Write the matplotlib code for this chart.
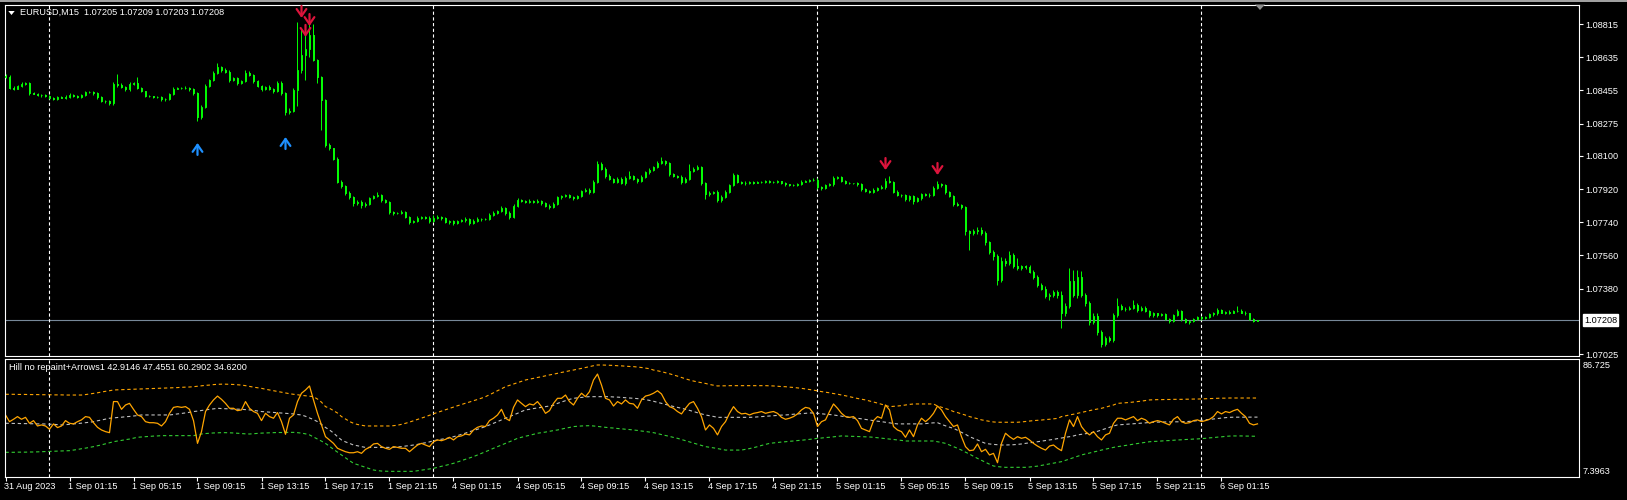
import matplotlib
matplotlib.use("Agg")
import matplotlib.pyplot as plt
from matplotlib.patches import Polygon, Rectangle
import numpy as np

plt.rcParams['font.family'] = ['Liberation Sans', 'DejaVu Sans']
plt.rcParams['lines.scale_dashes'] = False

# ---------------- data (prices in points above 1.07000) ----------------
BASE = 1.07000
PT = 1e-5
first_open_pts = 1535
close_pts = [
    1530, 1470, 1465, 1478, 1490, 1495, 1440, 1438, 1432, 1428,
    1425, 1415, 1410, 1418, 1415, 1420, 1430, 1425, 1418, 1428,
    1445, 1448, 1440, 1420, 1400, 1395, 1385, 1490, 1485, 1475,
    1460, 1490, 1495, 1470, 1450, 1425, 1422, 1420, 1420, 1410,
    1410, 1435, 1465, 1470, 1468, 1470, 1462, 1440, 1310, 1365,
    1480, 1510, 1550, 1580, 1565, 1555, 1510, 1520, 1495, 1505,
    1550, 1540, 1505, 1480, 1460, 1475, 1465, 1450, 1495, 1440,
    1335, 1345, 1455, 1565, 1645, 1680, 1755, 1620, 1530, 1405,
    1160, 1140, 1085, 960, 935, 900, 875, 845, 850, 835,
    840, 870, 880, 885, 860, 850, 795, 790, 790, 795,
    770, 740, 745, 765, 768, 765, 745, 765, 770, 762,
    740, 745, 735, 745, 750, 760, 735, 748, 760, 755,
    758, 780, 790, 800, 815, 790, 770, 830, 860, 855,
    850, 855, 850, 857, 845, 830, 825, 840, 875, 880,
    885, 878, 870, 880, 910, 915, 905, 960, 1055, 1030,
    990, 975, 960, 975, 955, 980, 990, 975, 965, 985,
    1010, 1025, 1040, 1060, 1070, 1060, 1000, 990, 985, 960,
    975, 1020, 1030, 1040, 950, 895, 900, 905, 860, 875,
    905, 940, 995, 960, 955, 950, 960, 955, 958, 960,
    965, 958, 960, 962, 955, 945, 942, 940, 945, 960,
    965, 968, 970, 930, 925, 940, 945, 980, 985, 965,
    955, 950, 950, 945, 920, 910, 905, 915, 925, 930,
    965, 960, 905, 890, 885, 865, 880, 855, 870, 895,
    890, 885, 925, 945, 940, 905, 880, 840, 835, 820,
    690, 680, 690, 700, 680, 630, 580, 555, 425, 530,
    520, 560, 500, 490, 500, 495, 470, 445, 400, 380,
    340, 345, 360, 345, 250, 285, 420, 345, 445, 345,
    300, 200, 230, 145, 80, 110, 100, 235, 285, 270,
    270, 275, 290, 265, 275, 260, 235, 245, 235, 240,
    215, 205, 235, 260, 215, 200, 205, 215, 225, 220,
    225, 240, 245, 265, 250, 255, 250, 258, 260, 250,
    245, 215, 205, 208,
]
up_wick_pts = [
    8, 6, 10, 5, 9, 6, 4, 8, 5, 6,
    5, 7, 4, 6, 5, 8, 10, 6, 4, 7,
    9, 6, 5, 4, 6, 5, 8, 12, 55, 10,
    6, 12, 8, 30, 5, 4, 6, 3, 5, 4,
    6, 8, 10, 6, 5, 7, 6, 4, 8, 12,
    10, 8, 12, 21, 6, 10, 8, 6, 7, 8,
    15, 10, 6, 8, 5, 6, 7, 4, 10, 12,
    8, 12, 15, 262, 148, 86, 65, 60, 6, 5,
    4, 8, 5, 6, 10, 6, 8, 6, 12, 8,
    10, 6, 8, 18, 6, 5, 4, 8, 6, 12,
    6, 5, 8, 10, 6, 5, 7, 12, 8, 6,
    5, 8, 6, 7, 6, 10, 5, 8, 6, 5,
    6, 8, 10, 7, 12, 6, 8, 10, 12, 8,
    6, 10, 8, 7, 5, 6, 8, 10, 6, 8,
    7, 10, 6, 8, 6, 12, 8, 10, 17, 10,
    8, 10, 6, 8, 12, 10, 28, 8, 6, 10,
    8, 10, 6, 12, 22, 8, 6, 8, 5, 10,
    12, 36, 10, 8, 6, 8, 10, 6, 8, 10,
    10, 8, 12, 6, 5, 6, 4, 5, 6, 4,
    5, 4, 5, 6, 4, 5, 4, 6, 5, 8,
    6, 5, 8, 10, 8, 6, 10, 12, 8, 6,
    5, 4, 5, 6, 5, 6, 4, 8, 6, 10,
    15, 25, 6, 8, 5, 6, 10, 5, 8, 6,
    6, 8, 12, 18, 8, 6, 5, 10, 8, 6,
    8, 10, 14, 16, 12, 10, 8, 10, 15, 20,
    18, 25, 15, 44, 10, 8, 12, 8, 10, 12,
    15, 10, 12, 14, 20, 15, 70, 60, 35, 30,
    10, 12, 15, 20, 10, 15, 10, 12, 42, 10,
    8, 12, 30, 10, 8, 12, 6, 8, 5, 6,
    5, 6, 8, 10, 6, 5, 4, 8, 6, 5,
    6, 5, 8, 10, 6, 5, 8, 6, 27, 8,
    6, 5, 4, 1,
]
dn_wick_pts = [
    6, 10, 8, 5, 6, 8, 12, 5, 6, 8,
    6, 5, 8, 6, 4, 6, 5, 8, 6, 5,
    5, 6, 8, 10, 8, 6, 12, 8, 10, 6,
    8, 6, 5, 8, 6, 8, 5, 6, 4, 10,
    12, 6, 5, 4, 6, 5, 8, 10, 20, 10,
    6, 8, 5, 6, 8, 5, 10, 6, 12, 5,
    6, 8, 10, 6, 8, 5, 6, 8, 5, 10,
    14, 8, 10, 85, 16, 134, 44, 8, 35, 165,
    12, 10, 8, 6, 10, 12, 8, 15, 10, 18,
    15, 8, 6, 5, 8, 6, 10, 12, 6, 8,
    8, 10, 6, 5, 8, 6, 10, 5, 6, 8,
    6, 8, 10, 6, 5, 8, 12, 6, 5, 6,
    5, 6, 8, 6, 5, 10, 12, 6, 5, 8,
    6, 5, 8, 6, 10, 8, 12, 6, 5, 8,
    6, 8, 10, 6, 5, 8, 10, 6, 10, 8,
    12, 8, 10, 6, 8, 12, 5, 6, 10, 8,
    5, 6, 8, 6, 5, 8, 10, 6, 8, 12,
    8, 5, 6, 8, 10, 30, 12, 8, 10, 8,
    6, 8, 5, 10, 6, 8, 5, 6, 4, 6,
    5, 6, 4, 5, 8, 6, 5, 4, 6, 5,
    4, 6, 5, 10, 8, 6, 5, 8, 6, 5,
    6, 5, 4, 8, 10, 6, 8, 5, 6, 4,
    12, 6, 8, 10, 6, 12, 8, 15, 6, 8,
    6, 8, 5, 6, 8, 10, 6, 12, 8, 10,
    20, 90, 12, 15, 10, 12, 15, 20, 25, 10,
    15, 12, 10, 8, 12, 10, 8, 15, 12, 10,
    12, 20, 10, 15, 85, 18, 12, 10, 15, 12,
    15, 20, 12, 18, 15, 10, 8, 12, 10, 8,
    10, 6, 8, 12, 8, 6, 10, 8, 10, 6,
    8, 12, 6, 5, 10, 8, 12, 6, 5, 8,
    6, 5, 8, 6, 5, 8, 6, 5, 6, 5,
    6, 8, 5, 2,
]

# oscillator buffers
osc_main = [
    48.9, 44.4, 46.0, 47.8, 46.0, 47.3, 43.3, 45.1, 41.5, 42.2,
    41.5, 39.3, 42.9, 40.4, 41.5, 45.1, 43.3, 42.9, 44.4, 45.6,
    47.8, 47.3, 43.7, 40.6, 38.8, 37.7, 37.0, 57.9, 57.9, 52.7,
    55.6, 56.7, 52.7, 48.9, 47.8, 44.4, 43.7, 43.7, 43.3, 41.5,
    44.4, 50.0, 54.0, 54.5, 54.0, 54.5, 52.7, 45.1, 29.8, 37.7,
    51.2, 55.6, 59.0, 61.6, 59.4, 56.7, 53.4, 53.4, 51.8, 52.3,
    57.9, 53.4, 51.2, 50.0, 45.1, 50.0, 47.8, 46.7, 50.5, 44.4,
    35.9, 46.7, 48.9, 57.9, 63.5, 65.7, 68.4, 59.0, 50.0, 42.2,
    34.3, 32.1, 29.8, 26.5, 25.3, 24.2, 23.5, 23.5, 24.2, 23.1,
    25.8, 27.1, 29.4, 29.8, 27.6, 26.5, 25.8, 27.6, 27.1, 26.5,
    26.5, 24.2, 26.5, 28.7, 29.8, 28.7, 27.6, 30.9, 32.1, 31.6,
    32.5, 33.9, 32.1, 34.3, 34.8, 36.1, 35.5, 38.8, 40.6, 41.5,
    41.1, 45.1, 46.7, 48.9, 52.7, 46.7, 45.1, 54.0, 59.0, 56.7,
    54.5, 56.3, 55.6, 57.9, 54.5, 50.0, 51.8, 56.7, 60.1, 60.1,
    62.3, 57.9, 55.6, 60.1, 63.5, 61.2, 64.6, 72.4, 76.4, 69.0,
    60.1, 59.0, 54.9, 57.9, 56.3, 59.0, 56.7, 56.3, 53.4, 59.0,
    61.6, 62.3, 63.5, 65.2, 63.0, 57.9, 54.5, 53.4, 51.2, 49.6,
    53.4, 56.7, 57.9, 53.4, 47.8, 38.8, 42.2, 39.9, 35.5, 41.1,
    44.4, 50.0, 54.5, 51.2, 49.6, 50.0, 48.9, 50.0, 50.5, 51.2,
    50.0, 50.7, 51.2, 50.0, 47.3, 46.0, 46.7, 47.8, 49.6, 52.3,
    54.0, 53.4, 50.0, 41.1, 44.4, 45.6, 51.2, 56.3, 53.4, 50.0,
    47.8, 47.3, 47.8, 45.1, 39.9, 38.8, 37.7, 45.1, 47.8, 46.7,
    55.6, 52.3, 41.1, 38.8, 37.7, 33.9, 38.8, 34.3, 42.2, 46.7,
    44.4, 46.7, 50.0, 54.9, 52.3, 47.8, 44.4, 41.1, 42.2, 34.3,
    27.6, 24.9, 25.3, 29.4, 24.2, 25.8, 22.0, 23.1, 16.8, 29.8,
    36.6, 34.3, 32.5, 34.3, 33.2, 33.9, 32.1, 29.8, 28.0, 26.5,
    25.3, 28.0, 28.7, 26.5, 24.9, 36.6, 45.6, 41.1, 47.8, 41.1,
    37.7, 35.5, 37.7, 34.3, 32.1, 35.5, 36.6, 43.3, 46.7, 46.7,
    45.6, 46.7, 47.8, 45.1, 46.7, 45.6, 43.3, 44.4, 45.1, 44.4,
    43.3, 42.2, 46.0, 47.8, 44.4, 43.3, 43.7, 45.1, 45.6, 44.4,
    45.1, 46.0, 47.8, 51.2, 49.6, 51.2, 50.5, 51.8, 52.7, 50.0,
    47.8, 43.3, 42.2, 42.9146,
]
osc_mid = [
    43.3, 43.3, 43.2, 43.2, 43.1, 43.1, 43.0, 43.0, 42.9, 42.9, 42.8, 42.7, 42.6, 42.4, 42.2,
    42.4, 42.6, 42.9, 43.1, 43.4, 43.7, 44.0, 44.4, 45.0, 45.5, 46.1, 46.7,
    46.9, 47.2, 47.4, 47.7, 47.9, 48.2, 48.5, 48.9, 48.9, 48.9, 48.9, 48.9, 48.9, 48.9, 48.9, 49.2, 49.6, 49.9, 50.3, 50.7, 51.2,
    51.5, 51.9, 52.3, 52.7, 53.0, 53.4, 53.2, 53.1, 53.0, 52.9, 52.8, 52.7,
    52.5, 52.3, 52.0, 51.6, 51.2, 51.0, 50.8, 50.6, 50.4, 50.2, 50.0, 49.8, 49.6, 49.2, 48.9,
    48.0, 46.9, 45.8, 44.4, 42.5, 40.5, 38.8, 36.8, 34.3, 32.1, 30.8, 29.8, 28.7, 28.2, 27.6, 27.1,
    27.1, 27.1, 27.1, 27.1, 27.1, 27.1, 27.2, 27.4, 27.6, 28.0,
    28.3, 28.7, 29.1, 29.8, 30.2, 30.8, 31.6, 32.1, 32.6, 33.0, 33.5, 34.3, 35.0, 35.9, 36.7, 37.7, 38.4, 39.3, 40.2, 41.1, 42.2, 43.3, 44.4, 45.6,
    46.7, 47.8, 48.9, 50.0, 51.2, 52.3, 52.7, 53.2, 53.6, 54.0, 54.5, 54.9, 55.4, 56.7, 57.6, 58.5, 59.4, 60.1, 60.4, 60.7, 61.0, 61.2,
    61.2, 61.2, 61.2, 61.2, 61.2, 61.0, 60.9, 60.7, 60.5, 60.3, 60.1,
    59.9, 59.6, 59.2, 58.7, 58.1, 57.4, 56.7, 56.0, 55.3, 54.6, 54.0, 53.4, 52.7, 52.0, 51.2, 50.4, 49.6, 48.9, 48.4, 47.9, 47.3,
    47.3, 47.3, 47.3, 47.3, 47.3, 47.3, 47.3, 47.3, 47.4, 47.6, 47.8, 48.0, 48.2, 48.4, 48.6, 48.8, 48.9,
    49.1, 49.4, 49.6, 49.8, 50.0, 50.3, 50.2, 50.0, 49.7, 49.4, 49.2, 48.9, 48.5, 48.1, 47.6, 47.2, 46.8, 46.7,
    46.3, 45.9, 45.5, 45.1, 44.7, 44.4, 44.0, 43.6, 43.2, 42.9, 42.9, 42.9, 42.9, 42.9, 42.9, 42.9, 43.1, 43.4, 43.6, 43.7,
    42.6, 41.6, 40.7, 39.9, 38.6, 37.2, 35.9, 34.3, 33.2, 32.1, 30.9, 29.8, 29.4, 29.1, 28.9, 28.7,
    28.7, 28.8, 28.9, 29.1, 29.4, 29.8, 30.2, 30.5, 30.9, 31.3, 31.7, 32.1, 32.5,
    33.0, 33.4, 33.9, 34.3, 34.8, 35.5, 35.9, 36.3, 36.7, 37.3, 37.9, 38.8, 39.7, 40.6, 41.5, 42.2,
    42.4, 42.6, 42.8, 43.0, 43.2, 43.4, 43.6, 43.9, 44.0, 44.1, 44.1, 44.2, 44.2, 44.3, 44.3, 44.4, 44.4,
    44.6, 44.8, 45.1, 45.3, 45.6, 45.9, 46.2, 46.5, 46.8, 47.1, 47.3, 47.4, 47.4, 47.4, 47.4, 47.4, 47.4, 47.4551,
]
osc_upper = [
    62.8, 62.8, 62.8, 62.7, 62.7, 62.7, 62.6, 62.6, 62.6, 62.5, 62.5, 62.5, 62.4, 62.4, 62.4, 62.3, 62.3, 62.3, 62.3, 62.3,
    62.6, 63.0, 63.4, 63.8, 64.3, 64.8, 65.2, 65.7,
    65.8, 65.9, 66.0, 66.1, 66.2, 66.3, 66.4, 66.5, 66.6, 66.7, 66.8, 66.9, 67.0, 67.1, 67.2, 67.3, 67.5, 67.6, 67.7, 67.9,
    68.2, 68.5, 68.8, 69.0, 69.3, 69.5, 69.6, 69.6, 69.5, 69.4,
    69.2, 69.0, 68.6, 68.1, 67.6, 67.2, 66.8, 66.2, 65.7, 65.2, 64.7, 64.2, 63.7, 63.2, 62.8,
    62.5, 62.1, 61.8, 61.5, 61.2, 59.6, 57.5, 54.5,
    53.4, 51.8, 50.2, 47.8, 46.2, 44.5, 43.3, 42.5, 42.0, 41.5,
    41.5, 41.5, 41.5, 41.5, 41.5, 41.5, 41.7, 42.0, 42.6, 43.3,
    44.1, 45.0, 45.9, 46.8, 47.7, 48.7, 49.7, 50.6, 51.5, 52.4,
    53.3, 54.2, 55.1, 55.9, 56.8, 57.6, 58.5, 59.3, 60.2, 61.2, 62.5, 63.8, 65.2, 66.5, 67.9,
    68.8, 69.7, 70.6, 71.5, 72.4, 73.0, 73.5, 74.1, 74.6, 75.2, 75.8, 76.3, 76.9, 77.5, 78.0, 78.6, 79.1, 79.7, 80.2, 80.8, 81.4, 82.0, 82.5,
    82.5, 82.4, 82.3, 82.2, 82.0, 81.9, 81.7, 81.5, 81.4,
    81.1, 80.8, 80.4, 80.0, 79.1, 78.6, 78.0, 77.3, 76.6, 75.8,
    75.0, 74.1, 73.2, 72.4, 71.7, 71.1, 70.6, 70.1, 69.4, 68.9, 68.4,
    68.5, 68.5, 68.6, 68.6, 68.6, 68.6, 68.6, 68.6, 68.6, 68.6, 68.6, 68.6, 68.5, 68.4, 68.2, 68.0, 67.9,
    67.6, 67.4, 67.1, 66.8, 66.4, 66.0, 65.6, 65.1, 64.6, 64.2, 63.8, 63.3, 62.9, 62.3, 61.8, 61.2, 60.6, 60.0, 59.5, 59.0,
    58.3, 57.6, 56.9, 56.1, 55.3, 54.5, 54.7, 54.9, 55.2, 55.6, 56.0, 56.3, 56.3, 56.3, 56.3, 56.3, 56.3,
    54.9, 54.1, 53.2, 52.4, 51.2, 50.5, 49.6, 48.8, 47.8, 47.1, 46.4, 45.6, 45.1,
    44.6, 44.2, 44.0, 44.0, 44.0, 44.0, 44.0, 44.0, 44.2, 44.5, 44.8, 45.1,
    45.3, 45.5, 45.8, 46.0, 46.3, 46.6, 47.8, 48.3, 48.9, 49.4, 50.0, 50.6, 51.2, 51.8, 52.4, 52.9, 53.4, 54.1, 54.9, 55.6, 56.7,
    56.9, 57.1, 57.3, 57.6, 57.9, 58.2, 58.6, 59.0, 59.1, 59.2, 59.2, 59.3, 59.3, 59.4, 59.4, 59.4, 59.5, 59.5,
    59.6, 59.6, 59.7, 59.8, 59.9, 60.0, 60.1, 60.2, 60.2, 60.3, 60.3, 60.3, 60.3, 60.3, 60.3, 60.3, 60.2902,
]
osc_lower = [
    23.8, 23.8, 23.8, 23.9, 23.9, 23.9, 24.0, 24.0, 24.1, 24.2, 24.3, 24.4, 24.5, 24.6, 24.7, 24.8, 24.9,
    25.3, 25.7, 26.2, 26.6, 27.1, 27.6, 28.2, 28.8, 29.5, 30.2, 30.9,
    31.4, 31.8, 32.3, 32.7, 33.3, 33.9, 34.1, 34.3, 34.5, 34.7, 34.8, 35.0, 35.0, 35.0, 35.0, 35.0, 35.0, 35.0, 35.0, 35.0,
    35.5, 36.1, 36.4, 36.6, 36.8, 36.9, 37.0, 37.0, 36.9, 36.8, 36.6, 36.4, 36.2,
    36.1, 36.3, 36.5, 36.7, 36.8, 36.9, 37.0, 37.1, 37.1, 37.2, 37.2, 37.2,
    37.0, 36.7, 36.2, 35.5, 34.1, 32.7, 31.3, 29.8,
    27.8, 25.8, 23.9, 22.0, 20.1, 18.2, 16.4,
    15.5, 14.6, 13.7, 12.8, 11.9, 11.5, 11.2, 11.1, 11.0, 11.0, 11.0, 11.0, 11.0, 11.0, 11.0,
    11.4, 11.8, 12.2, 12.6, 13.0, 13.7, 14.4, 15.0, 15.7, 16.4, 17.3, 18.2, 19.1, 20.0, 20.9, 22.0, 23.1, 24.2, 25.3, 26.5,
    27.6, 28.7, 29.8, 30.9, 32.0, 33.2, 33.9, 34.6, 35.2, 35.9, 36.6, 37.0, 37.4, 37.9, 38.4, 38.8, 39.4, 40.0, 40.5, 41.1, 41.3, 41.5, 41.6, 41.7,
    41.5, 41.2, 40.9, 40.6, 40.3, 40.1, 39.8, 39.6, 39.3, 39.1, 38.8,
    38.5, 38.1, 37.8, 37.4, 37.0, 36.4, 35.7, 35.1, 34.5, 33.8, 33.2, 32.4, 31.6, 30.8, 30.0, 29.2, 28.4, 27.6,
    27.2, 26.8, 26.3, 25.8, 25.3, 25.3, 25.3, 25.3, 25.3, 25.8, 26.3, 26.9, 27.6, 28.4, 29.1,
    29.8, 30.1, 30.4, 30.7, 30.9, 31.2, 31.4, 31.7, 31.9, 32.2, 32.5, 32.8, 33.2, 33.4, 33.7, 33.9, 34.2, 34.5, 34.8,
    34.7, 34.6, 34.5, 34.4, 34.3, 34.2, 34.1, 33.9, 33.6, 33.3, 33.0, 32.7, 32.4, 32.1, 31.8,
    31.4, 31.4, 31.4, 31.4, 31.4, 31.4, 31.4, 31.4,
    30.9, 30.4, 29.8, 28.7, 27.6, 26.5, 25.3, 23.9, 22.6, 21.1, 19.7, 18.4, 17.1, 15.8, 14.6, 14.2, 13.9,
    13.7, 13.7, 13.7, 13.7, 13.7, 13.7,
    13.9, 14.2, 14.5, 15.0, 15.5, 16.0, 16.5, 17.0, 17.5,
    18.4, 19.3, 20.2, 21.1, 22.0, 22.7, 23.3, 24.0, 24.6, 25.3,
    25.9, 26.5, 27.1, 27.6, 28.0, 28.4, 28.8, 29.3, 29.7, 30.1, 30.5, 30.9,
    31.1, 31.2, 31.4, 31.6, 31.7, 31.9, 32.1, 32.2, 32.4, 32.5, 32.7, 32.8, 33.0, 33.2,
    33.5, 33.7, 34.0, 34.2, 34.5, 34.7, 34.8, 34.8, 34.8, 34.7, 34.7, 34.6, 34.62,
]

price_ticks = [1.08815, 1.08635, 1.08455, 1.08275, 1.08100, 1.07920,
               1.07740, 1.07560, 1.07380, 1.07025]
current_price = 1.07208
x_tick_bars = [0, 16, 32, 48, 64, 80, 96, 112, 128, 144, 160, 176, 192,
               208, 224, 240, 256, 272, 288, 304]
x_tick_labels = ["31 Aug 2023", "1 Sep 01:15", "1 Sep 05:15", "1 Sep 09:15",
                 "1 Sep 13:15", "1 Sep 17:15", "1 Sep 21:15", "4 Sep 01:15",
                 "4 Sep 05:15", "4 Sep 09:15", "4 Sep 13:15", "4 Sep 17:15",
                 "4 Sep 21:15", "5 Sep 01:15", "5 Sep 05:15", "5 Sep 09:15",
                 "5 Sep 13:15", "5 Sep 17:15", "5 Sep 21:15", "6 Sep 01:15"]
day_break_bars = [11, 107, 203, 299]
sell_arrow_bars = [74, 76, 75, 220, 233]
sell_arrow_prices = [1.08848, 1.08804, 1.08745, 1.08023, 1.07996]
buy_arrow_bars = [48, 70]
buy_arrow_prices = [1.08170, 1.08202]
header_text = "EURUSD,M15  1.07205 1.07209 1.07203 1.07208"
ind_text = "Hill no repaint+Arrows1 42.9146 47.4551 60.2902 34.6200"
ind_max, ind_min = 86.725, 7.3963

# ---------------- figure ----------------
W, H = 1627, 500
fig = plt.figure(figsize=(W / 100, H / 100), dpi=100, facecolor='black')

def frac_box(l, t, r, b):
    return [l / W, 1 - b / H, (r - l) / W, (b - t) / H]

ax = fig.add_axes(frac_box(4.7, 4.5, 1579.3, 356.0))
ax2 = fig.add_axes(frac_box(4.7, 358.7, 1579.3, 476.7))
XL = (-0.2, 393.45)
FS = 6.6
LIME = '#00ff00'

for a in (ax, ax2):
    a.set_facecolor('black')
    a.set_xlim(*XL)
    for s in a.spines.values():
        s.set_color('white')
        s.set_linewidth(0.8)

# candles
close = np.array(close_pts, dtype=float)
opens = np.concatenate([[first_open_pts], close[:-1]])
top = np.maximum(opens, close)
bot = np.minimum(opens, close)
high = top + np.array(up_wick_pts)
low = bot - np.array(dn_wick_pts)
xs = np.arange(len(close))
pr = lambda v: BASE + np.asarray(v) * PT

ax.vlines(xs, pr(low), pr(high), color=LIME, lw=0.7, zorder=2)
fills = np.where(close >= opens, 'black', 'white')
ax.bar(xs, pr(top) - pr(bot), bottom=pr(bot), width=0.45, color=fills,
       edgecolor=LIME, linewidth=0.7, zorder=3)

ax.set_ylim(1.070142, 1.089208)
ax.yaxis.tick_right()
ax.set_yticks(price_ticks)
ax.set_yticklabels([f"{v:.5f}" for v in price_ticks])
ax.tick_params(axis='y', colors='white', labelcolor='white', length=3,
               width=0.8, direction='out', labelsize=FS, pad=1.5)
ax.tick_params(axis='x', bottom=False, labelbottom=False)

ax.axhline(current_price, color='#778899', lw=0.8, zorder=1)
ax.annotate(f"{current_price:.5f}", xy=(1, current_price),
            xycoords=('axes fraction', 'data'), xytext=(3.3, 0),
            textcoords='offset points', ha='left', va='center',
            fontsize=FS, color='black', annotation_clip=False,
            bbox=dict(boxstyle='square,pad=0.15', fc='white', ec='white'))

# arrows
arr_len = 0.00065
for b, p in zip(sell_arrow_bars, sell_arrow_prices):
    ax.annotate('', xy=(b, p), xytext=(b, p + arr_len),
                arrowprops=dict(arrowstyle='->,head_length=0.5,head_width=0.35',
                                color='#dc143c', lw=1.6, shrinkA=0, shrinkB=0),
                zorder=5)
for b, p in zip(buy_arrow_bars, buy_arrow_prices):
    ax.annotate('', xy=(b, p), xytext=(b, p - arr_len),
                arrowprops=dict(arrowstyle='->,head_length=0.5,head_width=0.35',
                                color='#1e90ff', lw=1.6, shrinkA=0, shrinkB=0),
                zorder=5)

# day separators
for a in (ax, ax2):
    for b in day_break_bars:
        a.axvline(b, color='white', lw=0.8, ls=(0, (2.3, 1.8)), zorder=1)

# oscillator
ax2.set_ylim(ind_min, ind_max)
ax2.plot(np.arange(len(osc_upper)), osc_upper, color='#ffa500', lw=0.8, ls=(0, (2.4, 2.0)))
ax2.plot(np.arange(len(osc_lower)), osc_lower, color='#32cd32', lw=0.8, ls=(0, (2.4, 2.0)))
ax2.plot(np.arange(len(osc_mid)), osc_mid, color='#c0c0c0', lw=0.8, ls=(0, (2.4, 2.0)))
ax2.plot(np.arange(len(osc_main)), osc_main, color='#ffa500', lw=0.9)
ax2.set_yticks([])
ax2.set_xticks(x_tick_bars)
ax2.tick_params(axis='x', colors='white', length=3, width=0.8,
                direction='out', labelbottom=False)
for b, lab in zip(x_tick_bars, x_tick_labels):
    ax2.annotate(lab, xy=(b, 0), xycoords=('data', 'axes fraction'),
                 xytext=(-0.8, -6.8), textcoords='offset points',
                 ha='left', va='center', fontsize=FS, color='white',
                 annotation_clip=False)

fig.text(1583 / W, 1 - 365 / H, f"{ind_max:.3f}", color='white', fontsize=FS,
         ha='left', va='center')
fig.text(1583 / W, 1 - 471 / H, f"{ind_min:.4f}", color='white', fontsize=FS,
         ha='left', va='center')
fig.text(9 / W, 1 - 367 / H, ind_text, color='white', fontsize=FS,
         ha='left', va='center')
fig.text(20.5 / W, 1 - 12.5 / H, header_text, color='white', fontsize=FS,
         ha='left', va='center')

def px_poly(pts, color):
    fig.patches.append(Polygon([(x / W, 1 - y / H) for x, y in pts],
                               closed=True, transform=fig.transFigure,
                               fc=color, ec='none'))

px_poly([(8.3, 11.0), (14.7, 11.0), (11.5, 15.0)], 'white')
px_poly([(1255, 4.5), (1265, 4.5), (1260, 10)], '#8c8c8c')
fig.patches.append(Rectangle((0, 1 - 2 / H), 1, 2 / H, transform=fig.transFigure,
                             fc='#a0a0a0', ec='none'))

fig.savefig('out.png', dpi=100, facecolor='black')
